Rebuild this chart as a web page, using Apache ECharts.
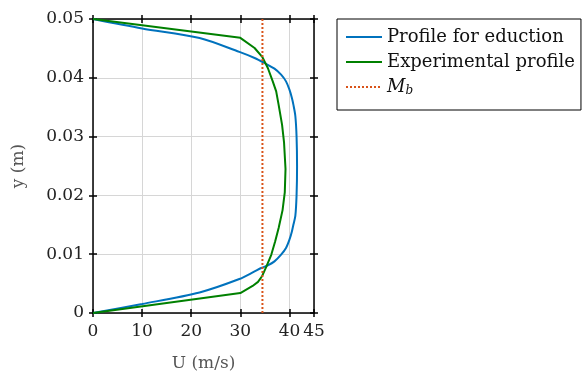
<!DOCTYPE html>
<html><head><meta charset="utf-8">
<script src="https://cdn.jsdelivr.net/npm/echarts@6/dist/echarts.min.js"></script>
<style>html,body{margin:0;padding:0;background:#fff}#c{width:585px;height:374px}</style>
</head><body><div id="c"></div>
<script>
// Profile for eduction (U in m/s, y in m)
const eductionU = [0, 10, 21.7, 29.8, 32.9, 34.25, 35.6, 36.95, 38.3, 39.3, 40.0, 40.5, 40.8, 41.2, 41.45, 41.55, 41.45, 41.2, 40.8, 40.5, 40.0, 39.3, 38.3, 36.95, 34.9, 32.9, 29.8, 21.7, 10, 0];
const eductionY = [0, 0.00153, 0.0035, 0.00578, 0.00707, 0.00765, 0.0081, 0.00878, 0.00992, 0.01105, 0.01247, 0.01388, 0.01502, 0.0165, 0.020, 0.025, 0.030, 0.0335, 0.03543, 0.03656, 0.03798, 0.03939, 0.04053, 0.04155, 0.04252, 0.04337, 0.0444, 0.04677, 0.0484, 0.05];
// Experimental profile
const expU = [0, 30, 32.5, 33.6, 34.45, 35.3, 36.3, 37.1, 37.8, 38.6, 39.05, 39.2, 38.9, 38.5, 37.8, 37.3, 36.6, 35.6, 34.5, 32.9, 30, 0];
const expY = [0, 0.0034, 0.0046, 0.0053, 0.0063, 0.0079, 0.0099, 0.0122, 0.01445, 0.0175, 0.0205, 0.0245, 0.029, 0.032, 0.0354, 0.0377, 0.0394, 0.04167, 0.0435, 0.04507, 0.0468, 0.05];
// Bulk velocity M_b
const mbValue = 34.5;
const xMin = 0, xMax = 45, xInterval = 10;
const yMin = 0, yMax = 0.05, yInterval = 0.01;
const seriesNames = ['Profile for eduction', 'Experimental profile', 'Mb'];

const FONT = 'DejaVu Serif';
const zip = (a, b) => a.map((v, i) => [v, b[i]]);

function xAx(position, inside, main) {
  return {
    type: 'value', position: position, min: xMin, max: xMax, interval: xInterval,
    name: main && position === 'bottom' ? 'U (m/s)' : '',
    nameLocation: 'middle', nameGap: 42,
    nameTextStyle: { fontFamily: FONT, fontSize: 17, color: '#555' },
    axisLine: { show: main, onZero: false, lineStyle: { color: '#000', width: 1.5 } },
    axisTick: { show: true, inside: inside, length: 4, lineStyle: { color: '#000', width: 1.5 } },
    axisLabel: { show: main && position === 'bottom', margin: 10, fontFamily: FONT, fontSize: 17, color: '#222', showMaxLabel: true, showMinLabel: true },
    splitLine: { show: main && position === 'bottom', lineStyle: { color: '#d6d6d6', width: 1 } }
  };
}
function yAx(position, inside, main) {
  return {
    type: 'value', position: position, min: yMin, max: yMax, interval: yInterval,
    name: main && position === 'left' ? 'y (m)' : '',
    nameLocation: 'middle', nameGap: 66,
    nameTextStyle: { fontFamily: FONT, fontSize: 17, color: '#555' },
    axisLine: { show: main, onZero: false, lineStyle: { color: '#000', width: 1.5 } },
    axisTick: { show: true, inside: inside, length: 4, lineStyle: { color: '#000', width: 1.5 } },
    axisLabel: { show: main && position === 'left', margin: 9, fontFamily: FONT, fontSize: 17, color: '#222',
      formatter: v => (Math.round(v * 100) / 100).toString() },
    splitLine: { show: main && position === 'left', lineStyle: { color: '#d6d6d6', width: 1 } }
  };
}

const chart = echarts.init(document.getElementById('c'), null, { renderer: 'canvas' });
chart.setOption({
  animation: false,
  backgroundColor: '#fff',
  grid: { left: 93, top: 19, width: 221, height: 294, containLabel: false, outerBoundsMode: 'none' },
  xAxis: [xAx('bottom', false, true), xAx('bottom', true, false), xAx('top', false, true), xAx('top', true, false)],
  yAxis: [yAx('left', false, true), yAx('left', true, false), yAx('right', false, true), yAx('right', true, false)],
  legend: {
    orient: 'vertical', left: 337, top: 19,
    padding: [8, 6, 13, 8],
    itemWidth: 36, itemHeight: 14, itemGap: 5,
    borderColor: '#000', borderWidth: 1, backgroundColor: '#fff',
    itemStyle: { opacity: 0 },
    data: seriesNames,
    formatter: name => name === 'Mb' ? '{it|M}{sub|b}' : name,
    textStyle: {
      fontFamily: FONT, fontSize: 18, color: '#111', lineHeight: 20,
      rich: {
        it: { fontFamily: FONT, fontStyle: 'italic', fontSize: 18, lineHeight: 20, color: '#111' },
        sub: { fontFamily: FONT, fontStyle: 'italic', fontSize: 12, lineHeight: 12, verticalAlign: 'bottom', color: '#111' }
      }
    }
  },
  series: [
    { name: seriesNames[0], type: 'line', data: zip(eductionU, eductionY), smooth: 0.3, symbol: 'none', clip: false,
      lineStyle: { color: '#0072BD', width: 2 }, itemStyle: { color: '#0072BD' }, z: 3 },
    { name: seriesNames[1], type: 'line', data: zip(expU, expY), smooth: false, symbol: 'none', clip: false,
      lineStyle: { color: '#008000', width: 2 }, itemStyle: { color: '#008000' }, z: 4 },
    { name: seriesNames[2], type: 'line', data: [[mbValue, yMin], [mbValue, yMax]], symbol: 'none', clip: false,
      lineStyle: { color: '#D95319', width: 2, type: [2, 2] }, itemStyle: { color: '#D95319' }, z: 5 }
  ]
});
</script></body></html>
